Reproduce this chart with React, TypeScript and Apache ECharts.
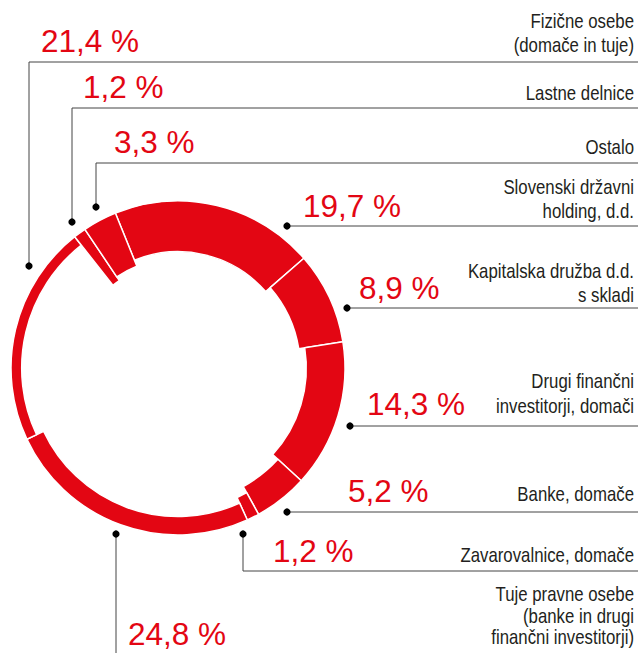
import React, { useEffect, useRef } from "react";
import * as echarts from "echarts";

// ---- data ----
const categories = [
  "Slovenski državni holding, d.d.",
  "Kapitalska družba d.d. s skladi",
  "Drugi finančni investitorji, domači",
  "Banke, domače",
  "Zavarovalnice, domače",
  "Tuje pravne osebe (banke in drugi finančni investitorji)",
  "Fizične osebe (domače in tuje)",
  "Lastne delnice",
  "Ostalo",
];
const values = [19.7, 8.9, 14.3, 5.2, 1.2, 24.8, 21.4, 1.2, 3.3];
const labelLines = [
  ["Slovenski državni", "holding, d.d."],
  ["Kapitalska družba d.d.", "s skladi"],
  ["Drugi finančni", "investitorji, domači"],
  ["Banke, domače"],
  ["Zavarovalnice, domače"],
  ["Tuje pravne osebe", "(banke in drugi", "finančni investitorji)"],
  ["Fizične osebe", "(domače in tuje)"],
  ["Lastne delnice"],
  ["Ostalo"],
];

// ---- layout / style ----
const W = 638;
const H = 653;
const RED = "#e30613";
const CENTER = [178, 368];
const OUTER = 167;
const innerRadius = [116.3, 122.3, 128.3, 135.3, 142.3, 148.5, 156.3, 105.3, 109.8];
const START_ANGLE = 112;

// annotation layout: dot, leader polyline, percent text (left x, baseline), category baseline, line height
const ann = [
  { dot: [287, 226], line: [[287, 226], [W, 226]], pct: [303, 217], cat: 194, lh: 24 },
  { dot: [347, 308], line: [[347, 308], [W, 308]], pct: [359, 299], cat: 278, lh: 23.5 },
  { dot: [350, 426], line: [[350, 426], [W, 426]], pct: [367, 415], cat: 388, lh: 24.5 },
  { dot: [287, 512], line: [[287, 512], [W, 512]], pct: [348, 502], cat: 501, lh: 24 },
  { dot: [243, 534], line: [[243, 534], [243, 571], [W, 571]], pct: [273, 562], cat: 562, lh: 24 },
  { dot: [116, 534], line: [[116, 534], [116, H]], pct: [128, 645], cat: 601, lh: 21.5 },
  { dot: [29, 266], line: [[29, 266], [29, 62], [W, 62]], pct: [41, 52], cat: 28, lh: 23.8 },
  { dot: [72, 222], line: [[72, 222], [72, 108], [W, 108]], pct: [83, 98], cat: 100, lh: 24 },
  { dot: [96, 207], line: [[96, 207], [96, 163], [W, 163]], pct: [114, 153], cat: 154, lh: 24 },
];

const PCT_SIZE = 31.5;
const CAT_SIZE = 20;
const CAT_SCALE_X = 0.84;
const CAT_FONT = "'Liberation Sans', Arial, Helvetica, sans-serif";
const PCT_FONT = "'Liberation Sans', Arial, Helvetica, sans-serif";

const fmt = (v: number) => v.toFixed(1).replace(".", ",") + " %";

export default function App() {
  const ref = useRef<HTMLDivElement>(null);

  useEffect(() => {
    if (!ref.current) return;
    const chart = echarts.init(ref.current, undefined, { renderer: "svg" });

    const series = values.map((_, i) => ({
      type: "pie",
      name: categories[i],
      center: CENTER,
      radius: [innerRadius[i], OUTER],
      startAngle: START_ANGLE,
      clockwise: true,
      silent: true,
      label: { show: false },
      labelLine: { show: false },
      emphasis: { disabled: true },
      z: 2,
      data: values.map((v, j) => ({
        name: categories[j],
        value: v,
        itemStyle:
          j === i
            ? { color: RED, borderColor: "#ffffff", borderWidth: 1.5 }
            : { color: "transparent", borderWidth: 0 },
      })),
    }));

    const graphics: any[] = [];
    ann.forEach((a, i) => {
      graphics.push({
        type: "polyline",
        silent: true,
        z: 5,
        shape: { points: a.line },
        style: { stroke: "#444444", lineWidth: 1, fill: null },
      });
      graphics.push({
        type: "circle",
        silent: true,
        z: 6,
        shape: { cx: a.dot[0], cy: a.dot[1], r: 3.6 },
        style: { fill: "#000000" },
      });
      graphics.push({
        type: "text",
        silent: true,
        z: 6,
        style: {
          text: fmt(values[i]),
          x: a.pct[0],
          y: a.pct[1] - PCT_SIZE * 0.34,
          fill: RED,
          fontSize: PCT_SIZE,
          fontFamily: PCT_FONT,
          lineHeight: 24,
          align: "left",
          verticalAlign: "middle",
        },
      });
      graphics.push({
        type: "text",
        silent: true,
        z: 6,
        x: 634,
        y: a.cat - CAT_SIZE * 0.34 - a.lh / 2,
        scaleX: CAT_SCALE_X,
        style: {
          text: labelLines[i].join("\n"),
          x: 0,
          y: 0,
          fill: "#231f20",
          fontSize: CAT_SIZE,
          fontFamily: CAT_FONT,
          lineHeight: a.lh,
          align: "right",
          verticalAlign: "top",
        },
      });
    });

    chart.setOption({
      animation: false,
      backgroundColor: "#ffffff",
      series,
      graphic: { elements: graphics },
    });

    return () => chart.dispose();
  }, []);

  return (
    <div
      ref={ref}
      style={{ position: "absolute", left: 0, top: 0, width: W, height: H }}
    />
  );
}
